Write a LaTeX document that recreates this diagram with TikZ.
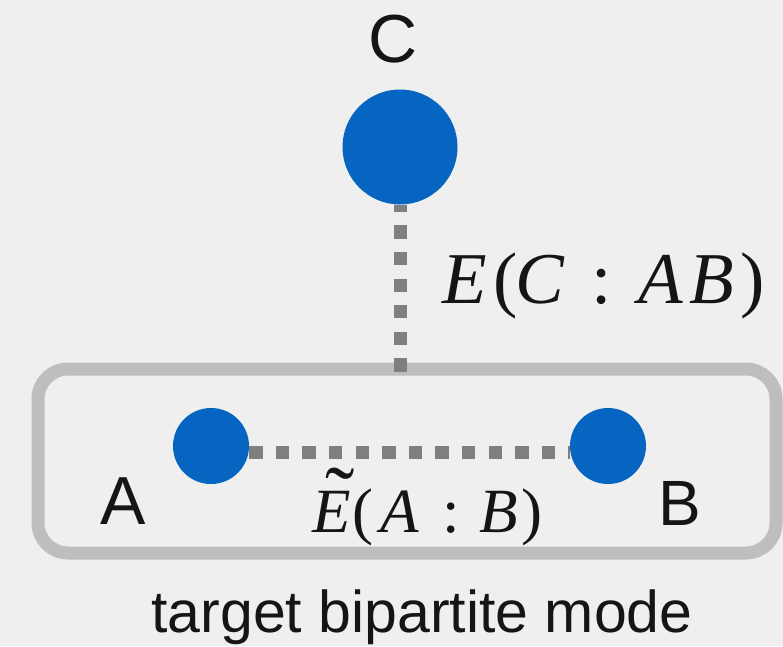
\documentclass[tikz,border=0pt]{standalone}
\usepackage{graphicx}
\usepackage{fontspec}
\setmainfont{Liberation Sans}
\newfontfamily\formulafont{Liberation Serif}
\definecolor{paper}{HTML}{EFEFEF}
\definecolor{nodeblue}{HTML}{0565C0}
\definecolor{linkgray}{HTML}{7F7F7F}
\definecolor{framegray}{HTML}{BEBEBE}
\definecolor{ink}{HTML}{151515}
% italic E with a wide tilde set above it
\newcommand{\tildedE}{\textit{E}\makebox[0pt][l]{\kern-25pt\raisebox{5pt}{\scalebox{1.4}{\char"02DC}}}}
\tikzset{
  dot/.style={circle, fill=nodeblue, draw=none, inner sep=0pt},
  name label/.style={text=ink, inner sep=0pt, anchor=base},
  formula/.style={text=ink, inner sep=0pt, anchor=base west},
  link/.style={draw=linkgray, line width=13pt, dash pattern=on 13.3pt off 13.3pt},
  frame/.style={draw=framegray, line width=13pt, rounded corners=30pt, outer sep=0pt}
}
\begin{document}
\begin{tikzpicture}[x=1pt,y=-1pt]
  % paper background, fixes the page size
  \fill[paper] (0,0) rectangle (783,646);
  \useasboundingbox (0,0) rectangle (783,646);

  % the bipartite mode frame
  \node[frame, minimum width=738pt, minimum height=184pt, inner sep=0pt] (box) at (407,461) {};

  % nodes
  \node[dot, minimum size=115pt] (C) at (400,147) {};
  \node[dot, minimum size=76pt] (A) at (211,446) {};
  \node[dot, minimum size=76pt] (B) at (608,446) {};

  % connectors
  \draw[link, dash phase=6pt] (C.south) -- ([yshift=-3pt]C.south |- box.north);
  \draw[link] ([yshift=-6pt]A.east) -- ([yshift=-6pt]B.west);

  % node names
  \node[name label, font=\fontsize{68}{68}\selectfont] (labC) at (393,62) {C};
  \node[name label, font=\fontsize{68}{68}\selectfont] (labA) at (123,524) {A};
  \node[name label, font=\fontsize{64}{64}\selectfont] (labB) at (680,525) {B};

  % entanglement labels
  \node[formula, font=\formulafont\fontsize{73}{73}\selectfont] (ECAB) at (442,303)
    {\textit{E}\kern6.4pt(\kern-2pt\textit{C}\kern27pt:\kern26pt\textit{A}\kern7pt\textit{B}\kern6pt)};
  \node[formula, font=\formulafont\fontsize{63}{63}\selectfont] (EAB) at (312,532)
    {\tildedE\kern1.5pt(\kern7pt\textit{A}\kern23.5pt:\kern19.5pt\textit{B}\kern3.5pt)};

  % caption
  \node[name label, font=\fontsize{59}{59}\selectfont] (caption) at (422,632) {target bipartite mode};
\end{tikzpicture}
\end{document}
